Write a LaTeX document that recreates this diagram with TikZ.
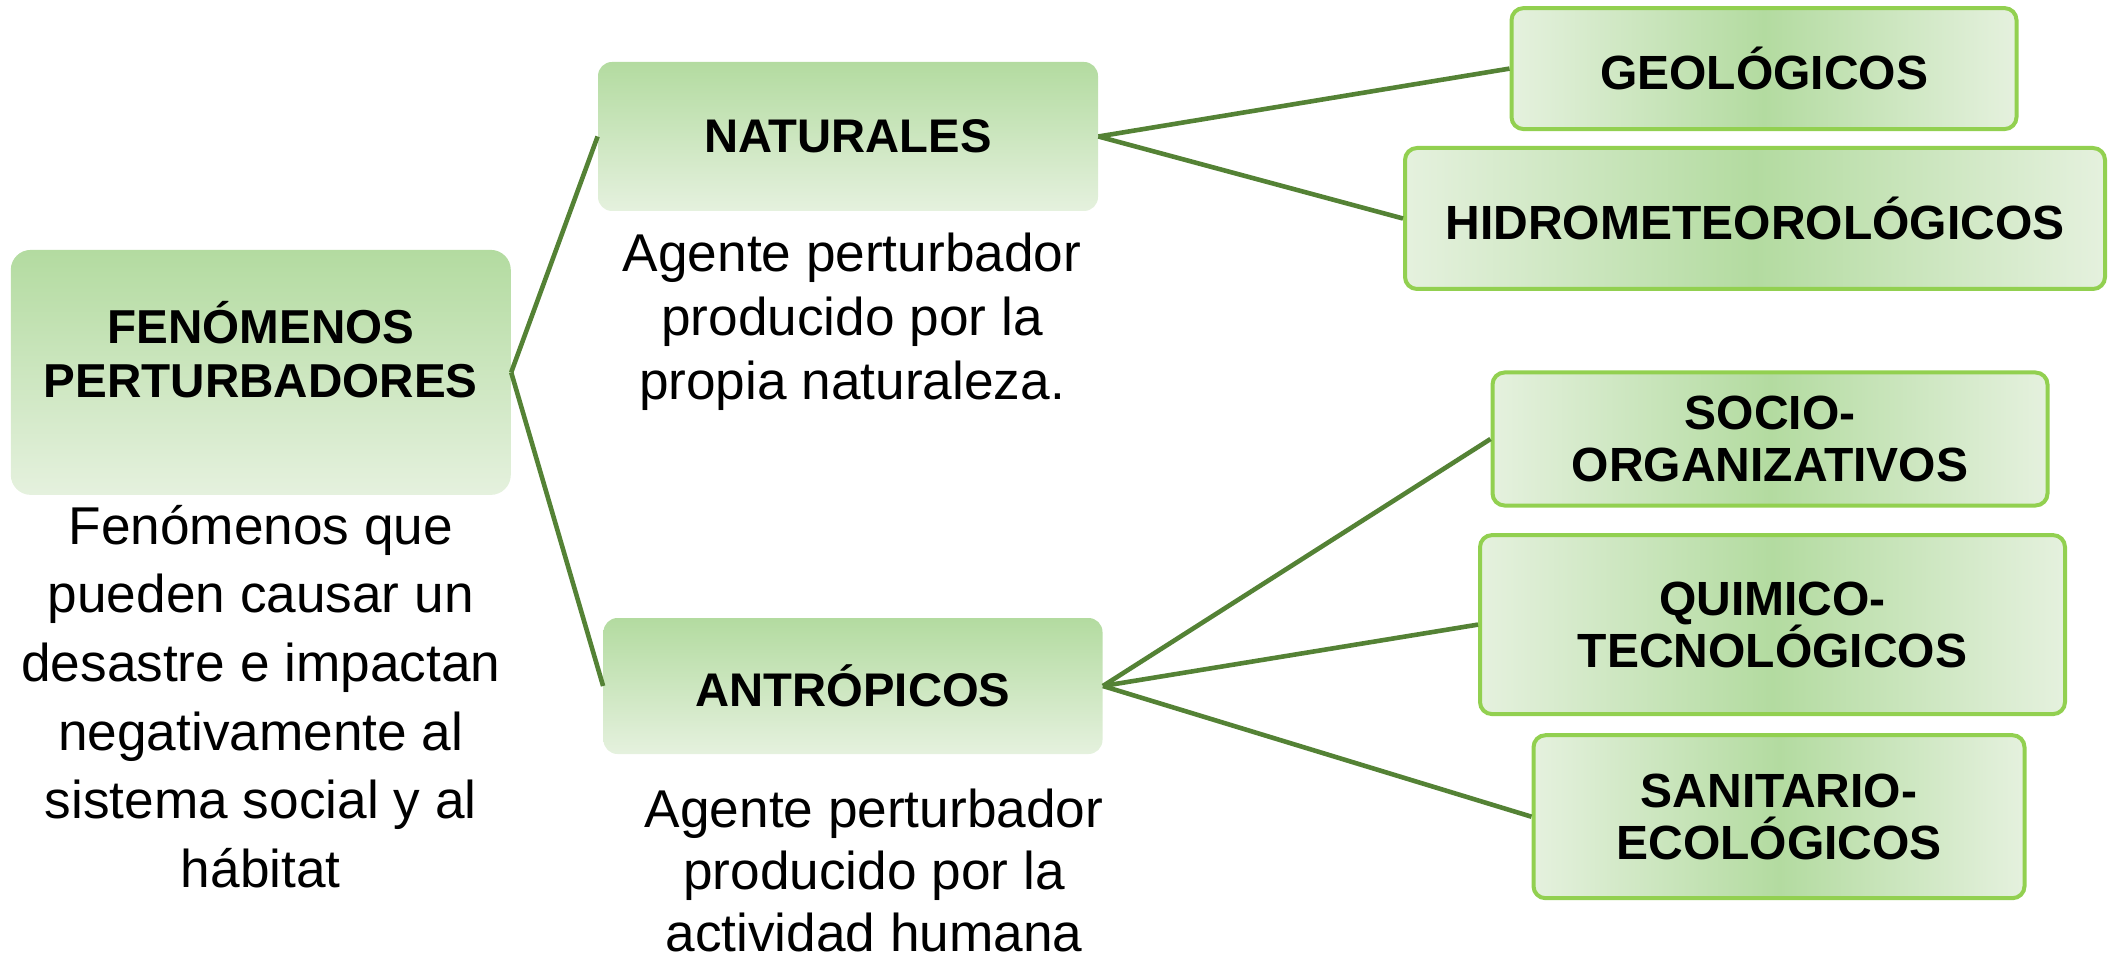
\documentclass[tikz,border=0pt]{standalone}
\usepackage{fontspec}
\setmainfont{Liberation Sans}
\usetikzlibrary{positioning}
\definecolor{tallo}{HTML}{548235}
\definecolor{borde}{HTML}{92D050}
\definecolor{verdeosc}{HTML}{B3DBA0}
\definecolor{verdecla}{HTML}{E5F1DE}
\begin{document}
\begin{tikzpicture}[x=.5pt,y=.5pt,
    caja/.style={rounded corners=7pt,top color=verdeosc,bottom color=verdecla,inner sep=0pt,align=center,font=\bfseries\fontsize{23.6}{27}\selectfont},
    hoja/.style={draw=borde,line width=2pt,rounded corners=6pt,left color=verdecla,right color=verdecla,middle color=verdeosc,inner sep=0pt,align=center,font=\bfseries\fontsize{24}{26}\selectfont},
    texto/.style={inner sep=0pt,align=center,font=\fontsize{26.6}{32}\selectfont},
    rama/.style={draw=tallo,line width=2.3pt}]%
        \useasboundingbox (0,0) rectangle (2108,960); %%
        \begin{scope}
        \tikzstyle{every node}=[caja] %%
        \node[minimum width=250pt,minimum height=122.5pt,rounded corners=10pt] (fen) at (260.8,587.6)  {}; %%
        \node[minimum width=250pt,minimum height=74.5pt] (nat) at (848,823.5)  {NATURALES}; %%
        \node[minimum width=249.5pt,minimum height=68pt] (antr) at (853,274)  {ANTRÓPICOS}; %%
        \end{scope}
        \node[align=center,font=\bfseries\fontsize{23.8}{27}\selectfont] (fentit) at ([yshift=11.5pt]fen.center)  {FENÓMENOS\\PERTURBADORES}; %%
        \begin{scope}
        \tikzstyle{every node}=[hoja] %%
        \node[minimum width=252.5pt,minimum height=60.5pt] (geo) at (1764,891.4)  {GEOLÓGICOS}; %%
        \node[minimum width=350pt,minimum height=70.5pt] (hidro) at (1755,741.5)  {HIDROMETEOROLÓGICOS}; %%
        \node[minimum width=277.5pt,minimum height=66.5pt] (socio) at (1770,521)  {SOCIO-\\ORGANIZATIVOS}; %%
        \node[minimum width=292.5pt,minimum height=89.5pt] (quim) at (1772.5,335.4)  {QUIMICO-\\TECNOLÓGICOS}; %%
        \node[minimum width=245.5pt,minimum height=81.5pt] (sani) at (1779,143.3)  {SANITARIO-\\ECOLÓGICOS}; %%
        \end{scope}
        \begin{scope}
        \tikzstyle{every node}=[texto] %%
        \node[font=\fontsize{26.6}{34.3}\selectfont] (fendesc) at (260.8,263.6)  {Fenómenos que\\pueden causar un\\desastre e impactan\\negativamente al\\sistema social y al\\hábitat}; %%
        \node (natdesc) at (852,638)  {Agente perturbador\\producido por la\\propia naturaleza.}; %%
        \node[font=\fontsize{26.6}{31}\selectfont] (antrdesc) at (874,90)  {Agente perturbador\\producido por la\\actividad humana}; %%
        \end{scope}
\draw[rama] (fen.east)--(nat.west); %%
\draw[rama] (fen.east)--(antr.west); %%
\draw[rama] (nat.east)--(geo.west); %%
\draw[rama] (nat.east)--(hidro.west); %%
\draw[rama] (antr.east)--(socio.west); %%
\draw[rama] (antr.east)--(quim.west); %%
\draw[rama] (antr.east)--(sani.west); %%
\end{tikzpicture}
\end{document}
